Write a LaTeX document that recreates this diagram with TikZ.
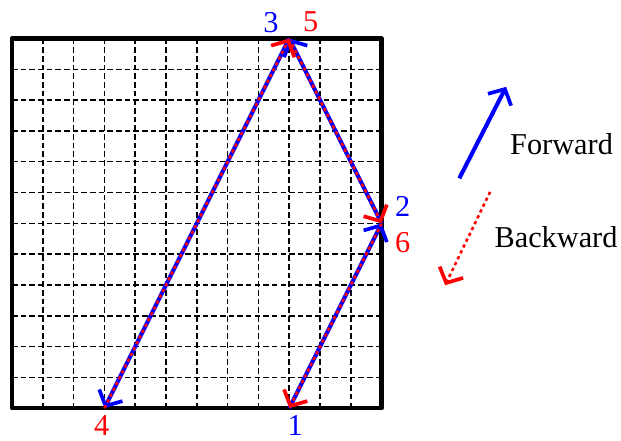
\documentclass[tikz,border=0pt]{standalone}
\usepackage{fontspec}
\setmainfont{Liberation Serif}
\usepackage{tikz}
\usepackage{xcolor}
\usetikzlibrary{arrows.meta, positioning}
\definecolor{fwdblue}{RGB}{0,0,255}
\definecolor{bwdred}{RGB}{255,0,0}
\tikzset{
  frame/.style={line width=2.1pt, line join=round},
  gridline/.style={line width=0.7pt, dash pattern=on 2.6pt off 1.4pt},
  fwd/.style={draw=fwdblue, line width=1.9pt,
              -{Straight Barb[length=5.5pt, width=12pt, line width=1.7pt]}},
  bwd/.style={draw=bwdred, line width=1.2pt, dash pattern=on 1.5pt off 1.5pt,
              -{Straight Barb[length=5.5pt, width=12pt, line width=1.7pt]}},
  fwdlabel/.style={text=fwdblue, inner sep=1pt},
  bwdlabel/.style={text=bwdred, inner sep=1pt},
}

\begin{document}
\begin{tikzpicture}[x=0.5cm, y=0.5cm, font=\fontsize{14}{17}\selectfont]
  \useasboundingbox (-0.39,-1.04) rectangle (19.77,13.25);

  % grid and frame
  \draw[gridline, step=0.5cm] (0,0) grid (12,12);
  \draw[frame] (0,0) rectangle (12,12);

  % turning points of the path
  \coordinate (p1) at (9,0);
  \coordinate (p2) at (12,6);
  \coordinate (p3) at (9,12);
  \coordinate (p4) at (3,0);

  % forward 1-2-3-4, backward 4-5-6-1
  \draw[fwd] (p1) -- (p2);
  \draw[bwd] (p2) -- (p1);
  \draw[fwd] (p2) -- (p3);
  \draw[bwd] (p3) -- (p2);
  \draw[fwd] (p3) -- (p4);
  \draw[bwd] (p4) -- (p3);

  \node[fwdlabel] (n1) at (9.19,-0.55) {1};
  \node[fwdlabel] (n2) at (12.68,6.56) {2};
  \node[fwdlabel] (n3) at (8.41,12.53) {3};
  \node[bwdlabel] (n4) at (2.91,-0.55) {4};
  \node[bwdlabel] (n5) at (9.70,12.53) {5};
  \node[bwdlabel] (n6) at (12.68,5.39) {6};

  % legend
  \coordinate (fs) at (14.52,7.46);
  \coordinate (fe) at (16.04,10.43);
  \coordinate (bs) at (15.52,7.02);
  \coordinate (be) at (14.06,3.99);
  \draw[fwd] (fs) -- (fe);
  \draw[bwd] (bs) -- (be);
  \node (fwdtext) at (17.84,8.57) {Forward};
  \node (bwdtext) at (17.66,5.54) {Backward};
\end{tikzpicture}
\end{document}
